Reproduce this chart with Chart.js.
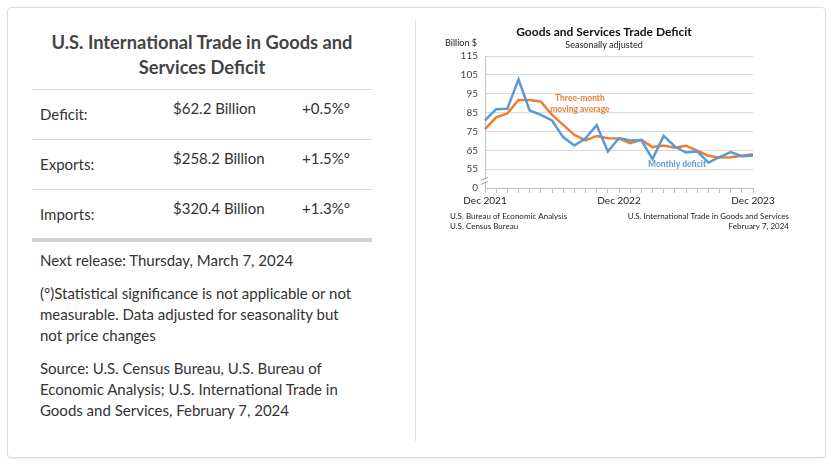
<!DOCTYPE html>
<html>
<head>
<meta charset="utf-8">
<script src="https://cdn.jsdelivr.net/npm/chart.js@4"></script>
<style>
  html, body { margin: 0; padding: 0; background: #fff; }
  body { width: 831px; height: 464px; position: relative; font-family: Lato, sans-serif; color: #333; }
  .card { position: absolute; left: 7px; top: 7px; width: 817px; height: 449px; border: 1px solid #dcdcdc; border-radius: 4px; box-shadow: 0 1px 2px rgba(0,0,0,0.08); }
  .divider { position: absolute; left: 415px; top: 20px; width: 1px; height: 421px; background: #e0e0e0; }
  .left { position: absolute; left: 32px; top: 0; width: 340px; }
  h2 { position: absolute; left: 0; top: 30px; width: 340px; margin: 0; text-align: center; font-size: 18.3px; font-weight: 700; line-height: 25px; color: #444; }
  .rule { position: absolute; left: 0; width: 340px; height: 1px; background: #d6d6d6; }
  .rule.thick { height: 4px; background: #d0d0d0; }
  .cell { position: absolute; font-size: 15px; white-space: nowrap; }
  .txt { position: absolute; left: 8px; width: 322px; font-size: 15px; line-height: 21px; }
  #wrap { position: absolute; left: 430px; top: 20px; width: 370px; height: 220px; }
</style>
</head>
<body>
<div class="card"></div>
<div class="divider"></div>
<div class="left">
  <h2>U.S. International Trade in Goods and Services Deficit</h2>
  <div class="rule" style="top:89px"></div>
  <div class="cell" style="left:8px;top:105px">Deficit:</div>
  <div class="cell" style="left:141px;top:99px">$62.2 Billion</div>
  <div class="cell" style="left:270px;top:99px">+0.5%°</div>
  <div class="rule" style="top:139px"></div>
  <div class="cell" style="left:8px;top:155px">Exports:</div>
  <div class="cell" style="left:141px;top:149px">$258.2 Billion</div>
  <div class="cell" style="left:270px;top:149px">+1.5%°</div>
  <div class="rule" style="top:189px"></div>
  <div class="cell" style="left:8px;top:205px">Imports:</div>
  <div class="cell" style="left:141px;top:199px">$320.4 Billion</div>
  <div class="cell" style="left:270px;top:199px">+1.3%°</div>
  <div class="rule thick" style="top:238px"></div>
  <div class="txt" style="top:250px">Next release: Thursday, March 7, 2024</div>
  <div class="txt" style="top:283px">(°)Statistical significance is not applicable or not measurable. Data adjusted for seasonality but not price changes</div>
  <div class="txt" style="top:358px">Source: U.S. Census Bureau, U.S. Bureau of Economic Analysis; U.S. International Trade in Goods and Services, February 7, 2024</div>
</div>
<div id="wrap"><canvas id="chart" width="370" height="220"></canvas></div>
<script>
const months = ['Dec 2021', 'Jan 2022', 'Feb 2022', 'Mar 2022', 'Apr 2022', 'May 2022', 'Jun 2022', 'Jul 2022', 'Aug 2022', 'Sep 2022', 'Oct 2022', 'Nov 2022',
  'Dec 2022', 'Jan 2023', 'Feb 2023', 'Mar 2023', 'Apr 2023', 'May 2023', 'Jun 2023', 'Jul 2023', 'Aug 2023', 'Sep 2023', 'Oct 2023', 'Nov 2023', 'Dec 2023'];
const monthlyDeficit = [80.8, 86.8, 87.0, 102.6, 86.1, 83.8, 80.8, 72.0, 67.5, 71.4, 78.3, 64.3,
  71.5, 70.2, 70.4, 60.3, 72.6, 67.0, 63.8, 64.4, 58.5, 61.4, 64.0, 61.9, 62.2];
const movingAverage = [76.2, 82.5, 84.6, 91.7, 91.7, 90.8, 83.8, 78.5, 73.2, 70.2, 72.6, 71.4,
  71.2, 68.8, 70.5, 66.7, 67.5, 66.3, 67.4, 64.8, 62.1, 61.2, 61.3, 62.1, 62.9];
const yTicks = [45, 55, 65, 75, 85, 95, 105, 115];
const yTickText = ['0', '55', '65', '75', '85', '95', '105', '115'];
const xTickText = ['Dec 2021', 'Dec 2022', 'Dec 2023'];

const font = 'Lato, sans-serif';

const extras = {
  id: 'extras',
  afterDraw(chart) {
    const c = chart.ctx;
    const x = chart.scales.x, y = chart.scales.y;
    c.save();
    c.textBaseline = 'middle';
    c.textAlign = 'center';
    c.fillStyle = '#111';
    c.font = 'bold 12px ' + font;
    c.fillText('Goods and Services Trade Deficit', 174, 12);
    c.font = '9px ' + font;
    c.fillStyle = '#222';
    c.fillText('Seasonally adjusted', 174, 25);
    c.textAlign = 'left';
    c.fillText('Billion $', 15, 23);

    // axis break mark
    const bx = chart.chartArea.left, by = y.getPixelForValue(48.5);
    c.fillStyle = '#fff';
    c.fillRect(bx - 3, by - 2, 6, 4);
    c.strokeStyle = '#999';
    c.lineWidth = 1;
    c.beginPath();
    c.moveTo(bx - 4, by - 1);
    c.lineTo(bx + 3, by - 4);
    c.moveTo(bx - 4, by + 3);
    c.lineTo(bx + 3, by);
    c.stroke();

    // series labels
    c.textAlign = 'center';
    c.font = 'bold 8.5px ' + font;
    c.fillStyle = '#ed7d31';
    c.fillText('Three-month', x.getPixelForValue(8.5), y.getPixelForValue(92.8));
    c.fillText('moving average', x.getPixelForValue(8.5), y.getPixelForValue(87.0));
    c.fillStyle = '#5b9bd5';
    c.fillText('Monthly deficit', x.getPixelForValue(17.2), y.getPixelForValue(57.8));

    // source lines
    c.font = '8px ' + font;
    c.fillStyle = '#222';
    c.textAlign = 'left';
    c.fillText('U.S. Bureau of Economic Analysis', 20, 196);
    c.fillText('U.S. Census Bureau', 20, 206);
    c.textAlign = 'right';
    c.fillText('U.S. International Trade in Goods and Services', 359, 196);
    c.fillText('February 7, 2024', 359, 206);
    c.restore();
  }
};

new Chart(document.getElementById('chart'), {
  type: 'line',
  data: {
    labels: months,
    datasets: [{
        label: 'Monthly deficit',
        data: monthlyDeficit,
        borderColor: '#5b9bd5',
        borderWidth: 2.5,
        pointRadius: 0,
        tension: 0
      },
      {
        label: 'Three-month moving average',
        data: movingAverage,
        borderColor: '#ed7d31',
        borderWidth: 2.5,
        pointRadius: 0,
        tension: 0
      }
    ]
  },
  options: {
    responsive: false,
    animation: false,
    layout: {
      padding: { left: 0, right: 47, top: 36, bottom: 32 }
    },
    scales: {
      x: {
        offset: false,
        grid: {
          drawOnChartArea: false,
          drawTicks: true,
          tickLength: 5,
          color: '#bfbfbf'
        },
        border: { color: '#bfbfbf' },
        ticks: {
          autoSkip: false,
          maxRotation: 0,
          padding: 2,
          color: '#222',
          font: { family: font, size: 10 },
          callback: (v, i) => i % 12 === 0 ? xTickText[i / 12] : ''
        },
        afterFit: (s) => { s.height = 20; }
      },
      y: {
        min: 45,
        max: 115,
        afterBuildTicks: (s) => { s.ticks = yTicks.map(v => ({ value: v })); },
        grid: {
          drawTicks: false,
          color: (ctx) => ctx.tick && ctx.tick.value === 45 ? 'rgba(0,0,0,0)' : '#d9d9d9'
        },
        border: { color: '#bfbfbf' },
        ticks: {
          padding: 7,
          color: '#444',
          font: { family: font, size: 10 },
          callback: (v) => yTickText[yTicks.indexOf(v)]
        },
        afterFit: (s) => { s.width = 55; }
      }
    },
    plugins: {
      legend: { display: false },
      tooltip: { enabled: false }
    }
  },
  plugins: [extras]
});
</script>
</body>
</html>
